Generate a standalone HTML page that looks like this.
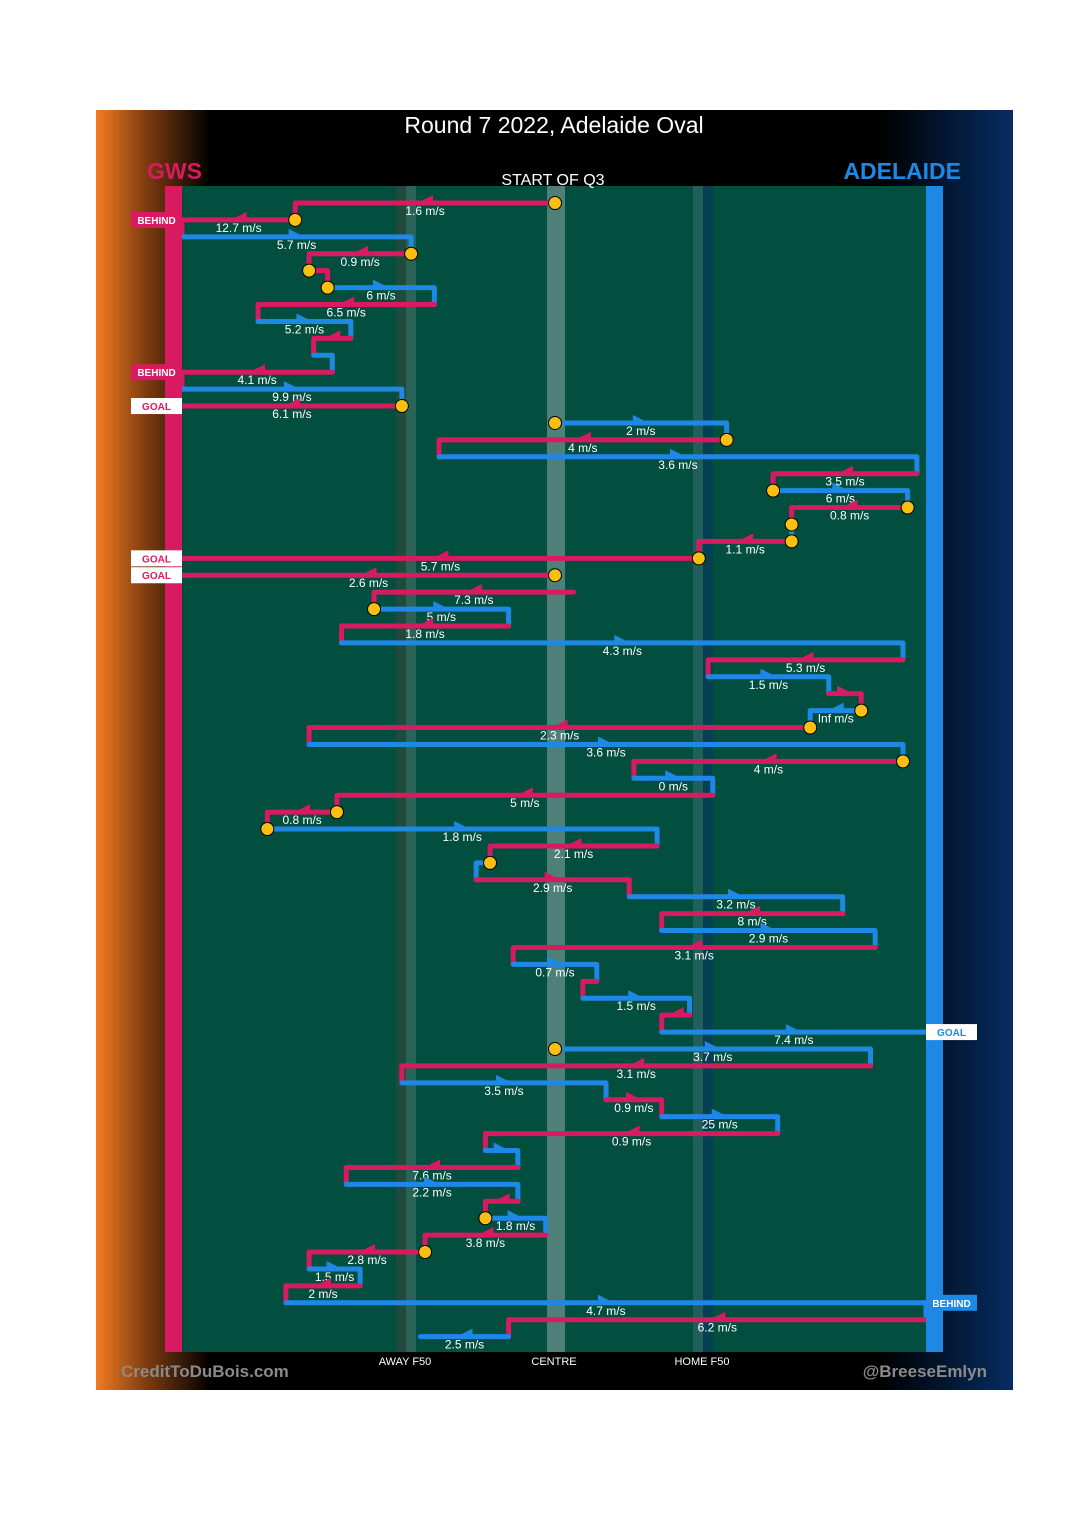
<!DOCTYPE html>
<html><head><meta charset="utf-8"><style>
html,body{margin:0;padding:0;background:#fff;width:1080px;height:1515px;overflow:hidden}
svg{display:block}
text{font-family:"Liberation Sans",sans-serif}
</style></head><body>
<svg id="chart" width="1080" height="1515" xmlns="http://www.w3.org/2000/svg">
<defs>
<linearGradient id="lg" x1="0" x2="1" y1="0" y2="0"><stop offset="0" stop-color="#f47b20"/><stop offset="0.45" stop-color="#7a3a10"/><stop offset="1" stop-color="#000"/></linearGradient>
<linearGradient id="rg" x1="0" x2="1" y1="0" y2="0"><stop offset="0" stop-color="#000"/><stop offset="1" stop-color="#062d62"/></linearGradient>
</defs>
<rect x="96" y="110" width="917" height="1280" fill="#000"/>
<rect x="96" y="110" width="115" height="1280" fill="url(#lg)"/>
<rect x="880" y="110" width="133" height="1280" fill="url(#rg)"/>
<rect x="182" y="186" width="744" height="1166" fill="#024e3f"/>
<rect x="396" y="186" width="10" height="1166" fill="#1f4a3c"/>
<rect x="406" y="186" width="10" height="1166" fill="#2a6458"/>
<rect x="547" y="186" width="18" height="1166" fill="#4e8078"/>
<rect x="693" y="186" width="10" height="1166" fill="#21605a"/>
<rect x="703" y="186" width="10" height="1166" fill="#043f52"/>
<text x="554" y="133" font-size="23" fill="#fff" text-anchor="middle">Round 7 2022, Adelaide Oval</text>
<text x="147" y="179" font-size="23" font-weight="bold" fill="#d81b60">GWS</text>
<text x="961" y="179" font-size="23" font-weight="bold" fill="#1e88e5" text-anchor="end">ADELAIDE</text>
<text x="553" y="185" font-size="16" fill="#fff" text-anchor="middle">START OF Q3</text>
<text x="405" y="1365" font-size="11" fill="#fff" text-anchor="middle">AWAY F50</text>
<text x="554" y="1365" font-size="11" fill="#fff" text-anchor="middle">CENTRE</text>
<text x="702" y="1365" font-size="11" fill="#fff" text-anchor="middle">HOME F50</text>
<text x="121" y="1377" font-size="17" font-weight="bold" fill="#8a8a8a">CreditToDuBois.com</text>
<text x="987" y="1377" font-size="17" font-weight="bold" fill="#8a8a8a" text-anchor="end">@BreeseEmlyn</text>
<g id="marks"></g>
<rect x="165" y="186" width="17" height="1166" fill="#d81b60"/>
<rect x="926" y="186" width="17" height="1166" fill="#1e88e5"/>
<g id="badges"></g>
</svg>
<script>
const starts = [0,-56,-82,-31,-53,-49,-26,-64,-44,-52,-48,-82,-33,0,37,-25,78,47,76,51,51,31,0,4,-39,-10,-46,75,33,59,66,55,-53,75,17,34,-47,-62,22,-14,-17,16,62,23,69,-9,9,6,29,23,0,68,-33,11,23,48,-15,-8,-45,-8,-15,-2,-28,-53,-42,-58,82,-10];
const ends   = [-56,-82,-31,-53,-49,-26,-64,-44,-52,-48,-82,-33,-82,37,-25,78,47,76,51,51,31,-82,-82,-39,-10,-46,75,33,59,66,55,-53,75,17,34,-47,-62,22,-14,-17,16,62,23,69,-9,9,6,29,23,82,68,-33,11,23,48,-15,-8,-45,-8,-15,-2,-28,-53,-42,-58,82,-10,-29];
const teams  = ["G","G","A","G","G","A","G","A","G","A","G","A","G",
  "A","G","A","G","A","G","A","G","G","G","G",
  "A","G","A","G","A","G","A","G","A","G","A","G",
  "G","A","G","A","G","A","G","A","G","A","G","A","G","A",
  "A","G","A","G","A","G","A","G","A","G","A","G",
  "G","A","G","A","G","A"];
const speeds = ["1.6","12.7","5.7","0.9","","6","6.5","5.2","","","4.1","9.9","6.1","2","4","3.6","3.5","6","0.8","","1.1","5.7","2.6","7.3","5","1.8","4.3","5.3","1.5","","Inf","2.3","3.6","4","0","5","0.8","1.8","2.1","","2.9","3.2","8","2.9","3.1","0.7","","1.5","","7.4","3.7","3.1","3.5","0.9","25","0.9","","7.6","2.2","","1.8","3.8","2.8","1.5","2","4.7","6.2","2.5"];
const stopRows = [0,1,3,4,5,12,13,14,17,18,19,20,21,22,24,30,31,33,36,37,39,50,60,62];
const stopXs   = [0,-56,-31,-53,-49,-33,0,37,47,76,51,51,31,0,-39,66,55,75,-47,-62,-14,0,-15,-28];
const scoreRows  = [1,10,12,21,22,49,65];
const scoreTypes = ["BEHIND","BEHIND","GOAL","GOAL","GOAL","GOAL","BEHIND"];

const NS="http://www.w3.org/2000/svg";
const g=document.getElementById('marks');
const gb=document.getElementById('badges');
function X(m){return Math.max(182,Math.min(926,555+m*4.64));}
function Y(i){return 203+i*16.92;}
const col={G:"#d81b60",A:"#1e88e5"};
function mk(t,a,parent){const e=document.createElementNS(NS,t);for(const k in a)e.setAttribute(k,a[k]);(parent||g).appendChild(e);return e;}
for(let i=0;i<starts.length;i++){
  const c=col[teams[i]];
  const x0=X(starts[i]),x1=X(ends[i]),y=Y(i);
  let d=`M${x0},${y} L${x1},${y}`;
  if(i+1<starts.length && starts[i+1]===ends[i]) d+=` L${x1},${Y(i+1)}`;
  const p=mk('path',{d:d,fill:'none',stroke:c,'stroke-width':5,'stroke-linejoin':'round','stroke-linecap':'round'});
  
  
  const m=(x0+x1)/2;
  if(Math.abs(x1-x0)>25){
    const dir=x1<x0?-1:1;
    const a=mk('polygon',{points:`${m+dir*10},${y+1} ${m-dir*8},${y-8} ${m-dir*8},${y+1}`,fill:c});
    
    
  }
  if(speeds[i]){
    const t=mk('text',{x:m,y:y+12,'font-size':12,fill:'#fff','text-anchor':'middle'});
    t.textContent=speeds[i]+" m/s";
    
    
  }
}
for(let k=0;k<stopRows.length;k++){
  const c=mk('circle',{cx:X(stopXs[k]),cy:Y(stopRows[k]),r:6.5,fill:'#fbbf10',stroke:'#000','stroke-width':1});
  
  
}
for(let k=0;k<scoreRows.length;k++){
  const i=scoreRows[k],y=Y(i),left=teams[i]==='G';
  const bx=left?131:926, bw=51;
  const goal=scoreTypes[k]==='GOAL';
  const c=left?"#d81b60":"#1e88e5";
  const r=mk('rect',{x:bx,y:y-8,width:bw,height:16,fill:goal?'#fff':c},gb);
  
  
  const t=mk('text',{x:bx+bw/2,y:y+4,'font-size':10,'font-weight':'bold',fill:goal?c:'#fff','text-anchor':'middle'},gb);
  t.textContent=scoreTypes[k];
  
  
}
</script>
</body></html>
